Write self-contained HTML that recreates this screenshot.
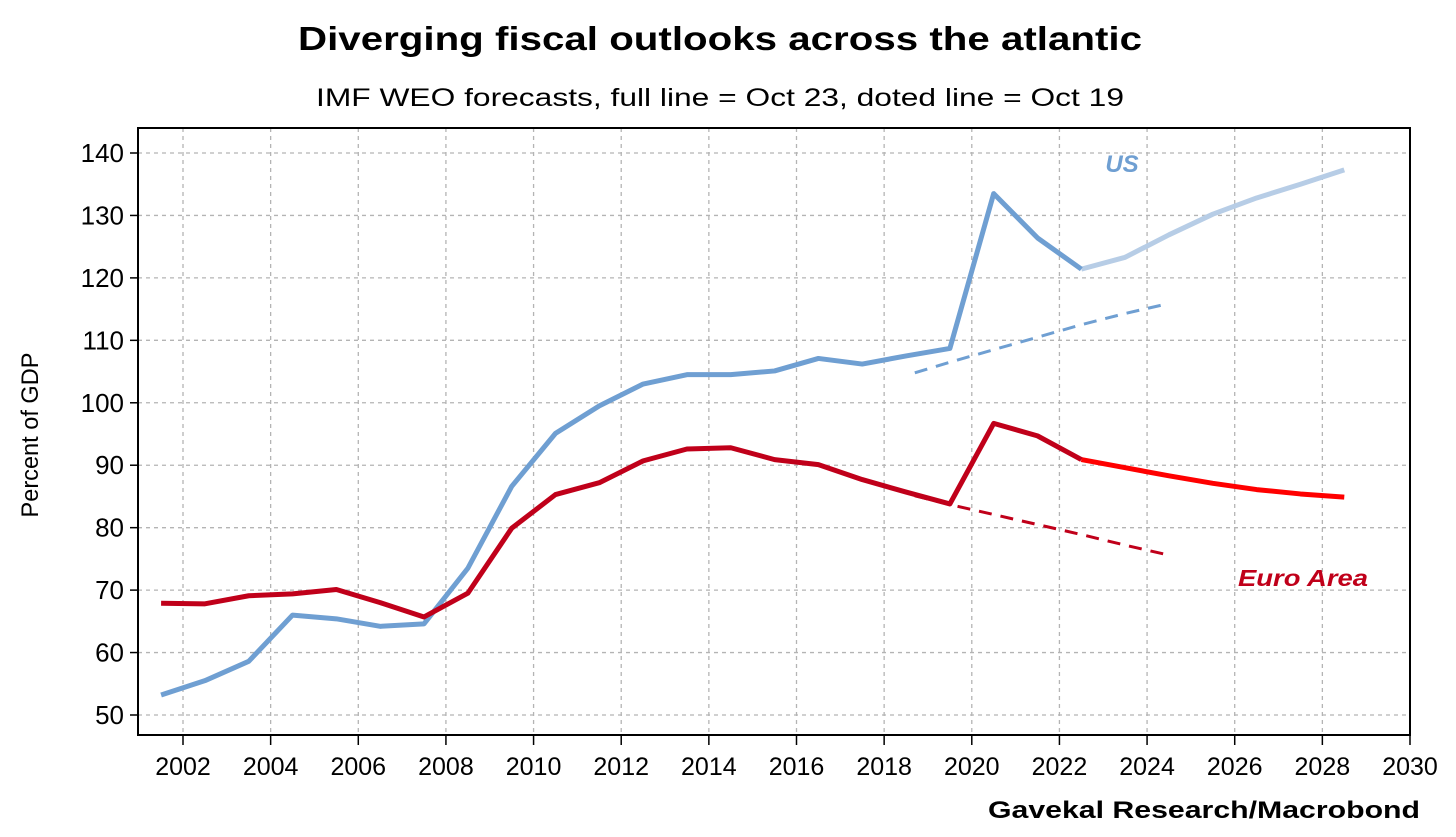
<!DOCTYPE html>
<html><head><meta charset="utf-8"><style>
body{margin:0;background:#fff;}
svg{display:block;font-family:"Liberation Sans",sans-serif;}
</style></head><body>
<svg width="1456" height="837" id="c">
<text x="720" y="50" text-anchor="middle" font-size="33" font-weight="bold" textLength="844" lengthAdjust="spacingAndGlyphs">Diverging fiscal outlooks across the atlantic</text>
<text x="720" y="106" text-anchor="middle" font-size="25" textLength="808" lengthAdjust="spacingAndGlyphs">IMF WEO forecasts, full line = Oct 23, doted line = Oct 19</text>
<text transform="translate(38,435) rotate(-90)" text-anchor="middle" font-size="24" textLength="165" lengthAdjust="spacingAndGlyphs">Percent of GDP</text>
<text x="1420" y="818" text-anchor="end" font-size="24" font-weight="bold" textLength="432" lengthAdjust="spacingAndGlyphs">Gavekal Research/Macrobond</text>
<g id="grid"></g><g id="axes"></g><g id="series"></g>
<text x="1122" y="172" text-anchor="middle" font-size="24" font-weight="bold" font-style="italic" fill="#6f9fd2">US</text>
<text x="1303" y="586" text-anchor="middle" font-size="23" font-weight="bold" font-style="italic" fill="#c0001a" textLength="130" lengthAdjust="spacingAndGlyphs">Euro Area</text>
</svg>
<script>
const usYears=[2001,2002,2003,2004,2005,2006,2007,2008,2009,2010,2011,2012,2013,2014,2015,2016,2017,2018,2019,2020,2021,2022];
const usValues=[53.2,55.5,58.6,66,65.4,64.2,64.6,73.5,86.6,95.1,99.5,103,104.5,104.5,105.1,107.1,106.2,107.5,108.7,133.5,126.4,121.4];
const usFcYears=[2022,2023,2024,2025,2026,2027,2028];
const usFcValues=[121.4,123.3,126.9,130.2,132.8,135,137.3];
const usOld19Years=[2018.2,2019,2020,2021,2022,2023,2024];
const usOld19Values=[104.8,106.5,108.5,110.5,112.5,114.3,115.9];
const euYears=usYears;
const euValues=[67.9,67.8,69.1,69.4,70.1,68,65.7,69.5,79.9,85.3,87.2,90.7,92.6,92.8,90.9,90.1,87.7,85.7,83.8,96.7,94.7,90.9];
const euFcYears=[2022,2023,2024,2025,2026,2027,2028];
const euFcValues=[90.9,89.6,88.3,87.1,86.1,85.4,84.9];
const euOld19Years=[2018.2,2019,2020,2021,2022,2023,2024];
const euOld19Values=[85.1,83.7,82.1,80.5,78.9,77.2,75.6];
const yTicks=[50,60,70,80,90,100,110,120,130,140];
const xTicks=[2002,2004,2006,2008,2010,2012,2014,2016,2018,2020,2022,2024,2026,2028,2030];
const NS="http://www.w3.org/2000/svg";
const L=138,R=1410,T=128,B=735;
const X=t=>183+(t-2002)*(1410-183)/28;
const Y=v=>715-(v-50)*(715-153)/90;
const xd=y=>X(y+0.5);
function mk(tag,attrs,parent){const e=document.createElementNS(NS,tag);for(const k in attrs)e.setAttribute(k,attrs[k]);document.getElementById(parent).appendChild(e);return e;}
yTicks.forEach(v=>{
 const g=mk('line',{x1:L,x2:R,y1:Y(v),y2:Y(v),stroke:'#b4b4b4','stroke-width':1.3,'stroke-dasharray':'4,4'},'grid');
 
 
 const tk=mk('line',{x1:L-8,x2:L,y1:Y(v),y2:Y(v),stroke:'#000','stroke-width':1.5},'axes');
 
 
 const t=mk('text',{x:L-14,y:Y(v)+9,'text-anchor':'end','font-size':26},'axes');
 t.textContent=v;
 
 
});
xTicks.forEach(v=>{
 if(v<2030){const g=mk('line',{x1:X(v),x2:X(v),y1:T,y2:B,stroke:'#b4b4b4','stroke-width':1.3,'stroke-dasharray':'4,4'},'grid');
 
 }
 const tk=mk('line',{x1:X(v),x2:X(v),y1:B,y2:B+10,stroke:'#000','stroke-width':1.5},'axes');
 
 
 const t=mk('text',{x:X(v),y:B+40,'text-anchor':'middle','font-size':25},'axes');
 t.textContent=v;
 
 
});
const box=mk('rect',{x:L,y:T,width:R-L,height:B-T,fill:'none',stroke:'#000','stroke-width':2},'axes');


function line(xs,vs,color,dash,name){
 const p=mk('polyline',{points:xs.map((y,i)=>xd(y)+','+Y(vs[i])).join(' '),fill:'none',stroke:color,'stroke-width':dash?3:5,'stroke-linejoin':'round','stroke-dasharray':dash?'13,9':'none'},'series');
 
 
}
line(usOld19Years,usOld19Values,'#6f9fd2',true,'us-oct19-forecast-line');
line(euOld19Years,euOld19Values,'#c0001a',true,'euro-oct19-forecast-line');
line(usFcYears,usFcValues,'#b7cde6',false,'us-oct23-forecast-line');
line(euFcYears,euFcValues,'#ff0000',false,'euro-oct23-forecast-line');
line(usYears,usValues,'#6f9fd2',false,'us-debt-line');
line(euYears,euValues,'#c0001a',false,'euro-debt-line');
</script>
</body></html>
